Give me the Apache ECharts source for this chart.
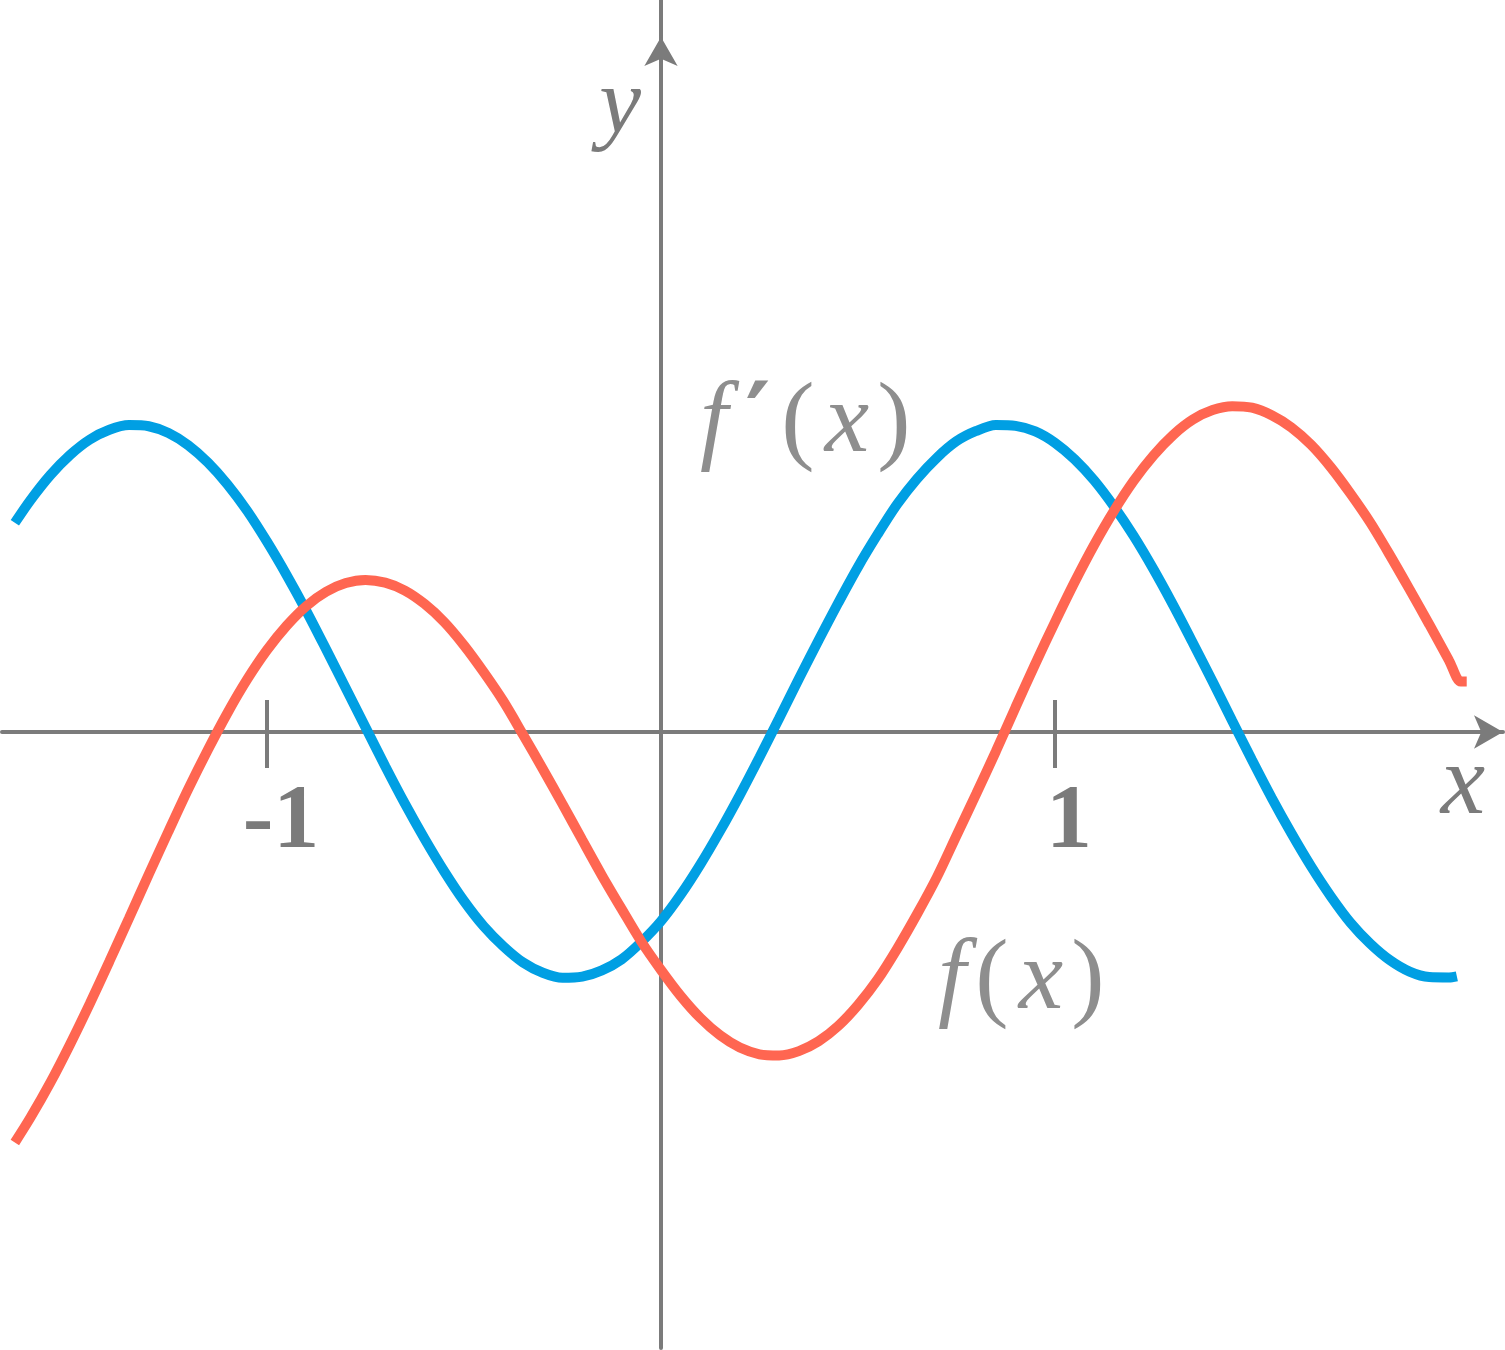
<!DOCTYPE html>
<html>
<head>
<meta charset="utf-8">
<script src="https://cdn.jsdelivr.net/npm/echarts@6/dist/echarts.min.js"></script>
<style>
html,body{margin:0;padding:0;background:#fff;}
#chart{width:1505px;height:1350px;}
</style>
</head>
<body>
<div id="chart"></div>
<script>
// ---- data ----
const blueX = [-1.64,-1.6,-1.55,-1.5,-1.45,-1.4,-1.35,-1.3,-1.25,-1.2,-1.15,-1.1,-1.05,-1.0,-0.95,-0.9,-0.85,-0.8,-0.75,-0.7,-0.65,-0.6,-0.55,-0.5,-0.45,-0.4,-0.35,-0.3,-0.25,-0.2,-0.15,-0.1,-0.05,0,0.05,0.1,0.15,0.2,0.25,0.3,0.35,0.4,0.45,0.5,0.55,0.6,0.65,0.7,0.75,0.8,0.85,0.9,0.95,1.0,1.05,1.1,1.15,1.2,1.25,1.3,1.35,1.4,1.45,1.5,1.55,1.6,1.65,1.7,1.75,1.8,1.85,1.9,1.95,2.0,2.02];
const blueY = [0.531,0.589,0.652,0.703,0.742,0.767,0.779,0.776,0.759,0.728,
  0.684,0.628,0.561,0.483,0.398,0.307,0.210,0.111,0.012,-0.087,
  -0.182,-0.271,-0.354,-0.429,-0.493,-0.544,-0.585,-0.611,-0.624,-0.621,
  -0.605,-0.577,-0.533,-0.480,-0.413,-0.336,-0.251,-0.160,-0.064,0.035,
  0.135,0.233,0.328,0.419,0.502,0.579,0.643,0.696,0.738,0.764,
  0.779,0.777,0.763,0.734,0.692,0.638,0.572,0.497,0.413,0.322,
  0.226,0.128,0.028,-0.071,-0.167,-0.257,-0.341,-0.417,-0.484,-0.537,
  -0.579,-0.608,-0.622,-0.623,-0.620];
const redX = [-1.64,-1.6,-1.55,-1.5,-1.45,-1.4,-1.35,-1.3,-1.25,-1.2,-1.15,-1.1,-1.05,-1.0,-0.95,-0.9,-0.85,-0.8,-0.75,-0.7,-0.65,-0.6,-0.55,-0.5,-0.45,-0.4,-0.35,-0.3,-0.25,-0.2,-0.15,-0.1,-0.05,0,0.05,0.1,0.15,0.2,0.25,0.3,0.35,0.4,0.45,0.5,0.55,0.6,0.65,0.7,0.75,0.8,0.85,0.9,0.95,1.0,1.05,1.1,1.15,1.2,1.25,1.3,1.35,1.4,1.45,1.5,1.55,1.6,1.65,1.7,1.75,1.8,1.85,1.9,1.95,2.0,2.03,2.045];
const redY = [-1.042,-0.978,-0.890,-0.793,-0.690,-0.582,-0.472,-0.361,-0.252,-0.145,
  -0.045,0.049,0.134,0.208,0.270,0.320,0.356,0.378,0.386,0.379,
  0.359,0.325,0.279,0.220,0.152,0.078,-0.007,-0.094,-0.183,-0.274,
  -0.364,-0.449,-0.532,-0.604,-0.670,-0.726,-0.770,-0.801,-0.818,-0.821,
  -0.810,-0.785,-0.746,-0.693,-0.628,-0.549,-0.462,-0.369,-0.263,-0.157,
  -0.049,0.063,0.173,0.279,0.381,0.476,0.562,0.638,0.702,0.754,
  0.793,0.817,0.827,0.823,0.804,0.773,0.729,0.672,0.605,0.532,
  0.449,0.362,0.273,0.182,0.128,0.128];
const xTicks = [-1, 1];
const xTickLabels = ['-1', '1'];
const xRange = [-1.6726, 2.1371];
const yRange = [-1.5635, 1.7640];
const labelFx = 'f(x)';
const labelDfx = 'f′(x)';

const AXIS = '#7b7b7b';
const TEXT = '#8e8e8e';
const BLUE = '#009fe3';
const RED = '#ff6651';

const chart = echarts.init(document.getElementById('chart'), null, {renderer: 'canvas'});
const pair = (xs, ys) => xs.map((x, i) => [x, ys[i]]);

const option = {
  animation: false,
  backgroundColor: '#ffffff',
  grid: {left: 2, right: 2, top: 37, bottom: 2, containLabel: false, outerBoundsMode: 'none'},
  xAxis: {
    type: 'value', min: xRange[0], max: xRange[1],
    axisLine: {show: true, onZero: true, symbol: ['none', 'arrow'], symbolSize: [25, 29],
      lineStyle: {color: AXIS, width: 4}},
    axisTick: {show: true, customValues: xTicks, length: 36, inside: false,
      lineStyle: {color: AXIS, width: 4}},
    axisLabel: {show: false},
    splitLine: {show: false}
  },
  yAxis: {
    type: 'value', min: yRange[0], max: yRange[1],
    axisLine: {show: true, onZero: true, symbol: ['none', 'arrow'], symbolSize: [25, 29],
      lineStyle: {color: AXIS, width: 4}},
    axisTick: {show: false}, axisLabel: {show: false}, splitLine: {show: false}
  },
  series: [{
    name: labelDfx, type: 'line', data: pair(blueX, blueY), smooth: 0.3, showSymbol: false,
    lineStyle: {color: BLUE, width: 10, cap: 'butt'}, z: 3
  }, {
    name: labelFx, type: 'line', data: pair(redX, redY), smooth: 0.3, showSymbol: false,
    lineStyle: {color: RED, width: 10, cap: 'butt'}, z: 4
  }]
};
chart.setOption(option);

const origin = chart.convertToPixel({gridIndex: 0}, [0, 0]);
const yTop = chart.convertToPixel({gridIndex: 0}, [0, yRange[1]]);
const serif = '"Liberation Serif"';
const it = {fontFamily: 'Liberation Serif', fontStyle: 'italic', fontSize: 100, fill: TEXT, color: TEXT, align: 'center'};
const up = {fontFamily: 'Liberation Serif', fontSize: 100, fill: TEXT, color: TEXT, align: 'center'};
const richMath = {
  f: Object.assign({}, it, {width: 44}),
  p: {fontFamily: 'DejaVu Serif', fontWeight: 'bold', fontSize: 96, fill: TEXT, color: TEXT, width: 44, align: 'left'},
  l: Object.assign({}, up, {width: 36}),
  x: Object.assign({}, it, {width: 62}),
  r: Object.assign({}, up, {width: 32})
};
const graphics = [
  {type: 'line', shape: {x1: origin[0], y1: 0, x2: origin[0], y2: yTop[1]},
   style: {stroke: AXIS, lineWidth: 4}, silent: true},
  {type: 'text', x: 1463, y: 787, style: {text: 'x', font: 'italic 100px ' + serif, fill: AXIS, align: 'center', verticalAlign: 'middle'}},
  {type: 'text', x: 620, y: 107, style: {text: 'y', font: 'italic 94px ' + serif, fill: AXIS, align: 'center', verticalAlign: 'middle'}},
  {type: 'text', x: 692, y: 425, style: {text: '{f|f}{p|′}{l|(}{x|x}{r|)}', rich: richMath, fill: TEXT, align: 'left', verticalAlign: 'middle', font: '100px ' + serif}},
  {type: 'text', x: 930, y: 982, style: {text: '{f|f}{l|(}{x|x}{r|)}', rich: richMath, fill: TEXT, align: 'left', verticalAlign: 'middle', font: '100px ' + serif}}
];
// upper halves of the x-axis ticks (ticks cross the axis line) and tick labels
xTicks.forEach(function (t, i) {
  const p = chart.convertToPixel({gridIndex: 0}, [t, 0]);
  graphics.push({type: 'line', shape: {x1: p[0], y1: p[1] - 32, x2: p[0], y2: p[1]},
    style: {stroke: AXIS, lineWidth: 4}, silent: true});
  graphics.push({type: 'text', x: p[0] + 14, y: p[1] + 91,
    style: {text: xTickLabels[i], font: 'bold 92px ' + serif, fill: AXIS, align: 'center', verticalAlign: 'middle'}});
});
chart.setOption({graphic: graphics});
</script>
</body>
</html>
